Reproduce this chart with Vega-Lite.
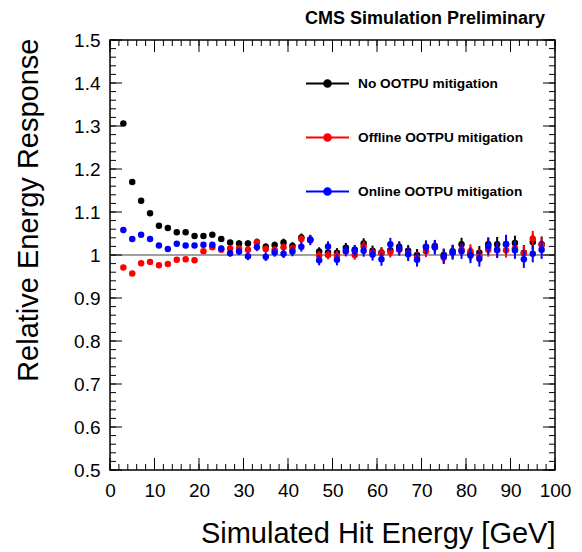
{
  "$schema": "https://vega.github.io/schema/vega-lite/v6.json",
  "width": 445,
  "height": 430,
  "autosize": {"type": "none"},
  "padding": {"left": 110, "top": 40, "right": 27, "bottom": 82},
  "background": "white",
  "title": {"text": "CMS Simulation Preliminary", "anchor": "end", "frame": "group", "fontSize": 18, "fontWeight": "bold", "font": "Liberation Sans", "color": "black", "dx": -10, "dy": 25, "offset": 10, "baseline": "bottom"},
  "config": {
    "view": {"stroke": "black", "strokeWidth": 1.5},
    "axis": {"labelFont": "Liberation Sans", "titleFont": "Liberation Sans", "domain": false},
    "font": "Liberation Sans"
  },
  "datasets": {
    "xminor": [{"v":0},{"v":2},{"v":4},{"v":6},{"v":8},{"v":10},{"v":12},{"v":14},{"v":16},{"v":18},{"v":20},{"v":22},{"v":24},{"v":26},{"v":28},{"v":30},{"v":32},{"v":34},{"v":36},{"v":38},{"v":40},{"v":42},{"v":44},{"v":46},{"v":48},{"v":50},{"v":52},{"v":54},{"v":56},{"v":58},{"v":60},{"v":62},{"v":64},{"v":66},{"v":68},{"v":70},{"v":72},{"v":74},{"v":76},{"v":78},{"v":80},{"v":82},{"v":84},{"v":86},{"v":88},{"v":90},{"v":92},{"v":94},{"v":96},{"v":98},{"v":100}],
    "xmajor": [{"v":0},{"v":10},{"v":20},{"v":30},{"v":40},{"v":50},{"v":60},{"v":70},{"v":80},{"v":90},{"v":100}],
    "yminor": [{"v":0.5},{"v":0.52},{"v":0.54},{"v":0.56},{"v":0.58},{"v":0.6},{"v":0.62},{"v":0.64},{"v":0.66},{"v":0.68},{"v":0.7},{"v":0.72},{"v":0.74},{"v":0.76},{"v":0.78},{"v":0.8},{"v":0.82},{"v":0.84},{"v":0.86},{"v":0.88},{"v":0.9},{"v":0.92},{"v":0.94},{"v":0.96},{"v":0.98},{"v":1},{"v":1.02},{"v":1.04},{"v":1.06},{"v":1.08},{"v":1.1},{"v":1.12},{"v":1.14},{"v":1.16},{"v":1.18},{"v":1.2},{"v":1.22},{"v":1.24},{"v":1.26},{"v":1.28},{"v":1.3},{"v":1.32},{"v":1.34},{"v":1.36},{"v":1.38},{"v":1.4},{"v":1.42},{"v":1.44},{"v":1.46},{"v":1.48},{"v":1.5}],
    "ymajor": [{"v":0.5},{"v":0.6},{"v":0.7},{"v":0.8},{"v":0.9},{"v":1},{"v":1.1},{"v":1.2},{"v":1.3},{"v":1.4},{"v":1.5}]
  },
  "data": {"values": [
    {"x":3,"y":1.306,"e":0.003,"s":"No"},{"x":5,"y":1.170,"e":0.003,"s":"No"},{"x":7,"y":1.126,"e":0.003,"s":"No"},{"x":9,"y":1.097,"e":0.004,"s":"No"},{"x":11,"y":1.068,"e":0.004,"s":"No"},{"x":13,"y":1.063,"e":0.004,"s":"No"},{"x":15,"y":1.053,"e":0.004,"s":"No"},{"x":17,"y":1.053,"e":0.005,"s":"No"},{"x":19,"y":1.044,"e":0.005,"s":"No"},{"x":21,"y":1.044,"e":0.005,"s":"No"},{"x":23,"y":1.047,"e":0.005,"s":"No"},{"x":25,"y":1.037,"e":0.006,"s":"No"},{"x":27,"y":1.029,"e":0.006,"s":"No"},{"x":29,"y":1.027,"e":0.007,"s":"No"},{"x":31,"y":1.027,"e":0.007,"s":"No"},{"x":33,"y":1.030,"e":0.008,"s":"No"},{"x":35,"y":1.019,"e":0.008,"s":"No"},{"x":37,"y":1.023,"e":0.008,"s":"No"},{"x":39,"y":1.029,"e":0.009,"s":"No"},{"x":41,"y":1.021,"e":0.009,"s":"No"},{"x":43,"y":1.041,"e":0.009,"s":"No"},{"x":45,"y":1.036,"e":0.010,"s":"No"},{"x":47,"y":1.008,"e":0.010,"s":"No"},{"x":49,"y":1.006,"e":0.010,"s":"No"},{"x":51,"y":1.005,"e":0.011,"s":"No"},{"x":53,"y":1.017,"e":0.011,"s":"No"},{"x":55,"y":1.012,"e":0.011,"s":"No"},{"x":57,"y":1.027,"e":0.012,"s":"No"},{"x":59,"y":1.010,"e":0.012,"s":"No"},{"x":61,"y":1.006,"e":0.012,"s":"No"},{"x":63,"y":1.011,"e":0.013,"s":"No"},{"x":65,"y":1.019,"e":0.013,"s":"No"},{"x":67,"y":1.010,"e":0.013,"s":"No"},{"x":69,"y":1.000,"e":0.014,"s":"No"},{"x":71,"y":1.019,"e":0.014,"s":"No"},{"x":73,"y":1.021,"e":0.014,"s":"No"},{"x":75,"y":1.000,"e":0.015,"s":"No"},{"x":77,"y":1.009,"e":0.015,"s":"No"},{"x":79,"y":1.025,"e":0.015,"s":"No"},{"x":81,"y":1.003,"e":0.016,"s":"No"},{"x":83,"y":1.005,"e":0.016,"s":"No"},{"x":85,"y":1.025,"e":0.016,"s":"No"},{"x":87,"y":1.025,"e":0.017,"s":"No"},{"x":89,"y":1.025,"e":0.017,"s":"No"},{"x":91,"y":1.028,"e":0.017,"s":"No"},{"x":93,"y":1.005,"e":0.018,"s":"No"},{"x":95,"y":1.030,"e":0.018,"s":"No"},{"x":97,"y":1.025,"e":0.018,"s":"No"},
    {"x":3,"y":0.971,"e":0.003,"s":"Offline"},{"x":5,"y":0.957,"e":0.003,"s":"Offline"},{"x":7,"y":0.981,"e":0.003,"s":"Offline"},{"x":9,"y":0.984,"e":0.004,"s":"Offline"},{"x":11,"y":0.976,"e":0.004,"s":"Offline"},{"x":13,"y":0.979,"e":0.004,"s":"Offline"},{"x":15,"y":0.989,"e":0.004,"s":"Offline"},{"x":17,"y":0.990,"e":0.005,"s":"Offline"},{"x":19,"y":0.988,"e":0.005,"s":"Offline"},{"x":21,"y":1.009,"e":0.005,"s":"Offline"},{"x":23,"y":1.018,"e":0.005,"s":"Offline"},{"x":25,"y":1.012,"e":0.006,"s":"Offline"},{"x":27,"y":1.015,"e":0.006,"s":"Offline"},{"x":29,"y":1.015,"e":0.007,"s":"Offline"},{"x":31,"y":1.012,"e":0.007,"s":"Offline"},{"x":33,"y":1.029,"e":0.008,"s":"Offline"},{"x":35,"y":1.014,"e":0.008,"s":"Offline"},{"x":37,"y":1.012,"e":0.008,"s":"Offline"},{"x":39,"y":1.018,"e":0.009,"s":"Offline"},{"x":41,"y":1.015,"e":0.009,"s":"Offline"},{"x":43,"y":1.037,"e":0.009,"s":"Offline"},{"x":45,"y":1.035,"e":0.010,"s":"Offline"},{"x":47,"y":0.999,"e":0.010,"s":"Offline"},{"x":49,"y":1.000,"e":0.010,"s":"Offline"},{"x":51,"y":0.999,"e":0.011,"s":"Offline"},{"x":53,"y":1.008,"e":0.011,"s":"Offline"},{"x":55,"y":1.000,"e":0.011,"s":"Offline"},{"x":57,"y":1.020,"e":0.012,"s":"Offline"},{"x":59,"y":1.005,"e":0.012,"s":"Offline"},{"x":61,"y":1.004,"e":0.012,"s":"Offline"},{"x":63,"y":1.007,"e":0.013,"s":"Offline"},{"x":65,"y":1.012,"e":0.013,"s":"Offline"},{"x":67,"y":1.004,"e":0.013,"s":"Offline"},{"x":69,"y":0.993,"e":0.014,"s":"Offline"},{"x":71,"y":1.009,"e":0.014,"s":"Offline"},{"x":73,"y":1.018,"e":0.014,"s":"Offline"},{"x":75,"y":0.994,"e":0.015,"s":"Offline"},{"x":77,"y":1.006,"e":0.015,"s":"Offline"},{"x":79,"y":1.012,"e":0.015,"s":"Offline"},{"x":81,"y":1.009,"e":0.016,"s":"Offline"},{"x":83,"y":0.997,"e":0.016,"s":"Offline"},{"x":85,"y":1.012,"e":0.016,"s":"Offline"},{"x":87,"y":1.011,"e":0.017,"s":"Offline"},{"x":89,"y":1.011,"e":0.017,"s":"Offline"},{"x":91,"y":1.015,"e":0.017,"s":"Offline"},{"x":93,"y":1.004,"e":0.018,"s":"Offline"},{"x":95,"y":1.038,"e":0.018,"s":"Offline"},{"x":97,"y":1.023,"e":0.018,"s":"Offline"},
    {"x":3,"y":1.058,"e":0.004,"s":"Online"},{"x":5,"y":1.037,"e":0.004,"s":"Online"},{"x":7,"y":1.047,"e":0.004,"s":"Online"},{"x":9,"y":1.037,"e":0.005,"s":"Online"},{"x":11,"y":1.022,"e":0.005,"s":"Online"},{"x":13,"y":1.014,"e":0.005,"s":"Online"},{"x":15,"y":1.026,"e":0.005,"s":"Online"},{"x":17,"y":1.022,"e":0.006,"s":"Online"},{"x":19,"y":1.022,"e":0.006,"s":"Online"},{"x":21,"y":1.024,"e":0.006,"s":"Online"},{"x":23,"y":1.024,"e":0.006,"s":"Online"},{"x":25,"y":1.015,"e":0.007,"s":"Online"},{"x":27,"y":1.004,"e":0.008,"s":"Online"},{"x":29,"y":1.008,"e":0.008,"s":"Online"},{"x":31,"y":0.997,"e":0.009,"s":"Online"},{"x":33,"y":1.018,"e":0.009,"s":"Online"},{"x":35,"y":0.996,"e":0.010,"s":"Online"},{"x":37,"y":1.006,"e":0.010,"s":"Online"},{"x":39,"y":1.003,"e":0.010,"s":"Online"},{"x":41,"y":1.008,"e":0.011,"s":"Online"},{"x":43,"y":1.019,"e":0.011,"s":"Online"},{"x":45,"y":1.035,"e":0.012,"s":"Online"},{"x":47,"y":0.988,"e":0.012,"s":"Online"},{"x":49,"y":1.020,"e":0.012,"s":"Online"},{"x":51,"y":0.989,"e":0.013,"s":"Online"},{"x":53,"y":1.010,"e":0.013,"s":"Online"},{"x":55,"y":1.010,"e":0.013,"s":"Online"},{"x":57,"y":1.010,"e":0.014,"s":"Online"},{"x":59,"y":1.001,"e":0.014,"s":"Online"},{"x":61,"y":0.990,"e":0.015,"s":"Online"},{"x":63,"y":1.025,"e":0.015,"s":"Online"},{"x":65,"y":1.014,"e":0.015,"s":"Online"},{"x":67,"y":1.002,"e":0.016,"s":"Online"},{"x":69,"y":0.989,"e":0.016,"s":"Online"},{"x":71,"y":1.018,"e":0.016,"s":"Online"},{"x":73,"y":1.018,"e":0.017,"s":"Online"},{"x":75,"y":0.997,"e":0.017,"s":"Online"},{"x":77,"y":1.006,"e":0.017,"s":"Online"},{"x":79,"y":1.009,"e":0.018,"s":"Online"},{"x":81,"y":0.999,"e":0.018,"s":"Online"},{"x":83,"y":0.991,"e":0.018,"s":"Online"},{"x":85,"y":1.020,"e":0.019,"s":"Online"},{"x":87,"y":1.012,"e":0.019,"s":"Online"},{"x":89,"y":1.025,"e":0.022,"s":"Online"},{"x":91,"y":1.011,"e":0.020,"s":"Online"},{"x":93,"y":0.990,"e":0.020,"s":"Online"},{"x":95,"y":1.003,"e":0.020,"s":"Online"},{"x":97,"y":1.012,"e":0.021,"s":"Online"}
  ]},
  "resolve": {"axis": {"x": "independent", "y": "independent"}},
  "layer": [
    {
      "data": {"values": [{}]},
      "mark": {"type": "rule", "color": "#808080", "strokeWidth": 1.5},
      "encoding": {
        "x": {"datum": 0, "type": "quantitative", "scale": {"domain": [0, 100], "nice": false, "zero": false},
          "axis": {"orient": "bottom", "values": [0,10,20,30,40,50,60,70,80,90,100], "format": "d", "ticks": false, "domain": false, "grid": false,
            "labelFontSize": 19, "labelPadding": 11, "labelFlush": false, "labelOverlap": false, "labelColor": "black", "title": "Simulated Hit Energy [GeV]", "titleFontSize": 29, "titleFontWeight": "normal", "titleColor": "black", "titleAlign": "right", "titleX": 445, "titleY": 72, "titleBaseline": "alphabetic"}},
        "x2": {"datum": 100},
        "y": {"datum": 1, "type": "quantitative", "scale": {"domain": [0.5, 1.5], "nice": false, "zero": false},
          "axis": {"orient": "left", "values": [0.5,0.6,0.7,0.8,0.9,1,1.1,1.2,1.3,1.4,1.5], "format": "~g", "ticks": false, "domain": false, "grid": false,
            "labelFontSize": 19, "labelPadding": 10, "labelFlush": false, "labelOverlap": false, "labelColor": "black", "title": "Relative Energy Response", "titleFontSize": 29, "titleFontWeight": "normal", "titleColor": "black", "titleAngle": 270, "titleAlign": "right", "titleX": -73, "titleY": -2, "titleBaseline": "alphabetic"}}
      }
    },
    {"data": {"name": "xminor"}, "mark": {"type": "rule", "color": "black", "strokeWidth": 1},
      "encoding": {"x": {"field": "v", "type": "quantitative", "axis": null}, "y": {"datum": 0.5, "type": "quantitative", "axis": null}, "y2": {"datum": 0.514}}},
    {"data": {"name": "xminor"}, "mark": {"type": "rule", "color": "black", "strokeWidth": 1},
      "encoding": {"x": {"field": "v", "type": "quantitative", "axis": null}, "y": {"datum": 1.5, "type": "quantitative", "axis": null}, "y2": {"datum": 1.486}}},
    {"data": {"name": "xmajor"}, "mark": {"type": "rule", "color": "black", "strokeWidth": 1},
      "encoding": {"x": {"field": "v", "type": "quantitative", "axis": null}, "y": {"datum": 0.5, "type": "quantitative", "axis": null}, "y2": {"datum": 0.528}}},
    {"data": {"name": "xmajor"}, "mark": {"type": "rule", "color": "black", "strokeWidth": 1},
      "encoding": {"x": {"field": "v", "type": "quantitative", "axis": null}, "y": {"datum": 1.5, "type": "quantitative", "axis": null}, "y2": {"datum": 1.472}}},
    {"data": {"name": "yminor"}, "mark": {"type": "rule", "color": "black", "strokeWidth": 1},
      "encoding": {"y": {"field": "v", "type": "quantitative", "axis": null}, "x": {"datum": 0, "type": "quantitative", "axis": null}, "x2": {"datum": 1.35}}},
    {"data": {"name": "yminor"}, "mark": {"type": "rule", "color": "black", "strokeWidth": 1},
      "encoding": {"y": {"field": "v", "type": "quantitative", "axis": null}, "x": {"datum": 100, "type": "quantitative", "axis": null}, "x2": {"datum": 98.65}}},
    {"data": {"name": "ymajor"}, "mark": {"type": "rule", "color": "black", "strokeWidth": 1},
      "encoding": {"y": {"field": "v", "type": "quantitative", "axis": null}, "x": {"datum": 0, "type": "quantitative", "axis": null}, "x2": {"datum": 2.7}}},
    {"data": {"name": "ymajor"}, "mark": {"type": "rule", "color": "black", "strokeWidth": 1},
      "encoding": {"y": {"field": "v", "type": "quantitative", "axis": null}, "x": {"datum": 100, "type": "quantitative", "axis": null}, "x2": {"datum": 97.3}}},
    {
      "transform": [{"filter": "datum.s === 'No'"}],
      "mark": {"type": "errorbar", "thickness": 2},
      "encoding": {
        "x": {"field": "x", "type": "quantitative", "axis": null},
        "y": {"field": "y", "type": "quantitative", "axis": null},
        "yError": {"field": "e"},
        "color": {"field": "s", "type": "nominal", "scale": {"domain": ["No", "Offline", "Online"], "range": ["#000000", "#ff0000", "#0000ff"]}}
      }
    },
    {
      "transform": [{"filter": "datum.s === 'No'"}],
      "mark": {"type": "point", "filled": true, "shape": "circle", "size": 42, "opacity": 1},
      "encoding": {
        "x": {"field": "x", "type": "quantitative", "axis": null},
        "y": {"field": "y", "type": "quantitative", "axis": null},
        "color": {"field": "s", "type": "nominal", "scale": {"domain": ["No", "Offline", "Online"], "range": ["#000000", "#ff0000", "#0000ff"]},
          "legend": {"orient": "none", "legendX": 195, "legendY": 21, "direction": "vertical", "title": null, "symbolType": "M-1,0L1,0M-0.155,0A0.155,0.155,0,1,0,0.155,0A0.155,0.155,0,1,0,-0.155,0Z", "symbolSize": 1849, "symbolStrokeWidth": 2, "symbolOpacity": 1, "labelFontSize": 13.7, "labelFontWeight": "bold", "labelFont": "Liberation Sans", "labelColor": "black", "labelOffset": 8, "labelLimit": 400, "rowPadding": 24, "padding": 0, "labelExpr": "datum.label + ' OOTPU mitigation'",
            "encode": {"symbols": {"update": {"fill": {"scale": "color", "field": "value"}, "stroke": {"scale": "color", "field": "value"}, "opacity": {"value": 1}}}}}}
      }
    },
    {
      "transform": [{"filter": "datum.s === 'Offline'"}],
      "mark": {"type": "errorbar", "thickness": 2},
      "encoding": {
        "x": {"field": "x", "type": "quantitative", "axis": null},
        "y": {"field": "y", "type": "quantitative", "axis": null},
        "yError": {"field": "e"},
        "color": {"field": "s", "type": "nominal"}
      }
    },
    {
      "transform": [{"filter": "datum.s === 'Offline'"}],
      "mark": {"type": "point", "filled": true, "shape": "circle", "size": 42, "opacity": 1},
      "encoding": {
        "x": {"field": "x", "type": "quantitative", "axis": null},
        "y": {"field": "y", "type": "quantitative", "axis": null},
        "color": {"field": "s", "type": "nominal"}
      }
    },
    {
      "transform": [{"filter": "datum.s === 'Online'"}],
      "mark": {"type": "errorbar", "thickness": 2},
      "encoding": {
        "x": {"field": "x", "type": "quantitative", "axis": null},
        "y": {"field": "y", "type": "quantitative", "axis": null},
        "yError": {"field": "e"},
        "color": {"field": "s", "type": "nominal"}
      }
    },
    {
      "transform": [{"filter": "datum.s === 'Online'"}],
      "mark": {"type": "point", "filled": true, "shape": "circle", "size": 42, "opacity": 1},
      "encoding": {
        "x": {"field": "x", "type": "quantitative", "axis": null},
        "y": {"field": "y", "type": "quantitative", "axis": null},
        "color": {"field": "s", "type": "nominal"}
      }
    }
  ]
}
